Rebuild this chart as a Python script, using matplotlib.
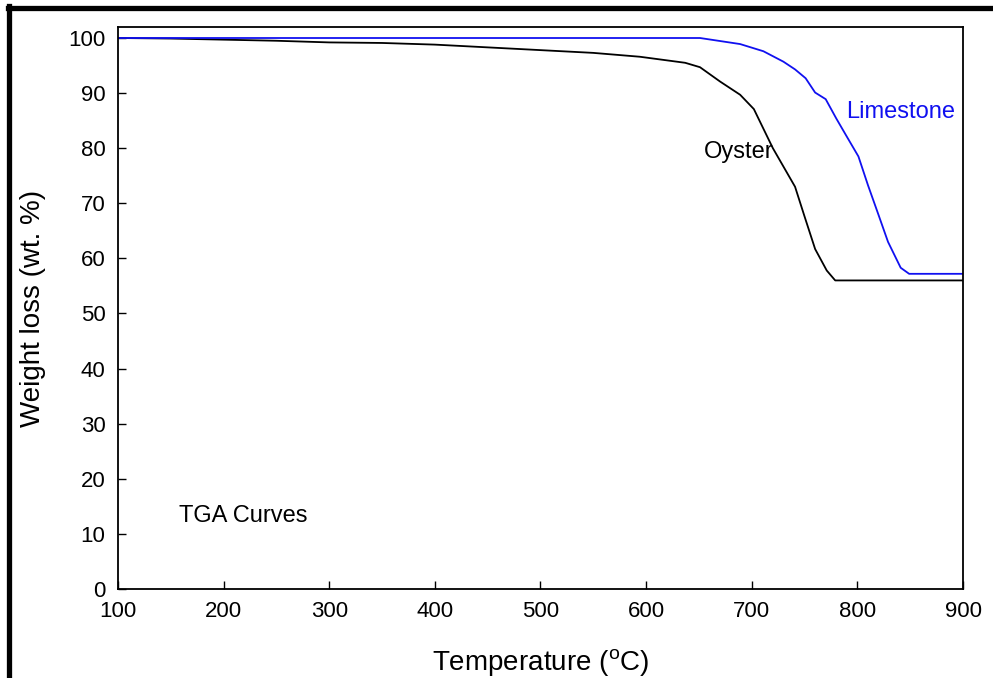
import matplotlib
matplotlib.use("Agg")
import matplotlib.pyplot as plt
from matplotlib.lines import Line2D

plt.rcParams["font.family"] = ["Liberation Sans", "DejaVu Sans"]
plt.rcParams["mathtext.fontset"] = "custom"
plt.rcParams["mathtext.rm"] = "Liberation Sans"

# TGA data (temperature in C, weight in wt. %)
limestone_t = [100, 300, 500, 651, 689, 711, 730, 741, 751, 760, 770, 780,
               790, 801, 810, 820, 829, 841, 849, 900]
limestone_w = [100, 100, 100, 100, 98.9, 97.6, 95.7, 94.3, 92.7, 90.1, 88.9,
               85.4, 82.1, 78.5, 73.3, 67.9, 63.0, 58.3, 57.2, 57.2]

oyster_t = [100, 150, 200, 250, 300, 350, 400, 450, 500, 550, 594, 637, 651,
            670, 689, 702, 720, 741, 750, 760, 771, 779, 900]
oyster_w = [100, 99.9, 99.7, 99.5, 99.2, 99.1, 98.8, 98.3, 97.8, 97.3, 96.6,
            95.5, 94.7, 92.1, 89.7, 87.1, 80.0, 73.0, 67.6, 61.7, 57.8, 56.0, 56.0]

x_ticks = [100, 200, 300, 400, 500, 600, 700, 800, 900]
y_ticks = [0, 10, 20, 30, 40, 50, 60, 70, 80, 90, 100]

fig = plt.figure(figsize=(9.93, 6.78), dpi=100)
ax = fig.add_axes([0.1188, 0.1313, 0.8510, 0.8289])

ax.plot(oyster_t, oyster_w, color="black", lw=1.3)
ax.plot(limestone_t, limestone_w, color="#1010f0", lw=1.3)

ax.text(789, 86.6, "Limestone", color="#1010f0", fontsize=17, va="center")
ax.text(655, 79.3, "Oyster", color="black", fontsize=17, va="center")
ax.text(158, 13.2, "TGA Curves", color="black", fontsize=17, va="center")

ax.set_xlim(100, 900)
ax.set_ylim(0, 102)
ax.set_xticks(x_ticks)
ax.set_yticks(y_ticks)
ax.tick_params(direction="in", length=6, width=1, labelsize=16, pad=9)
ax.set_xlabel("Temperature ($^{\\mathrm{o}}$C)", fontsize=20, labelpad=18)
ax.set_ylabel("Weight loss (wt. %)", fontsize=20, labelpad=16)
for s in ax.spines.values():
    s.set_linewidth(1.3)

# thick frame edges at top and left of the image
fig.add_artist(Line2D([0.0085, 1.0], [0.9875, 0.9875], color="black", lw=3.8,
                      transform=fig.transFigure))
fig.add_artist(Line2D([0.0095, 0.0095], [0.0, 0.991], color="black", lw=3.8,
                      transform=fig.transFigure))

fig.savefig("out.png", dpi=100)
